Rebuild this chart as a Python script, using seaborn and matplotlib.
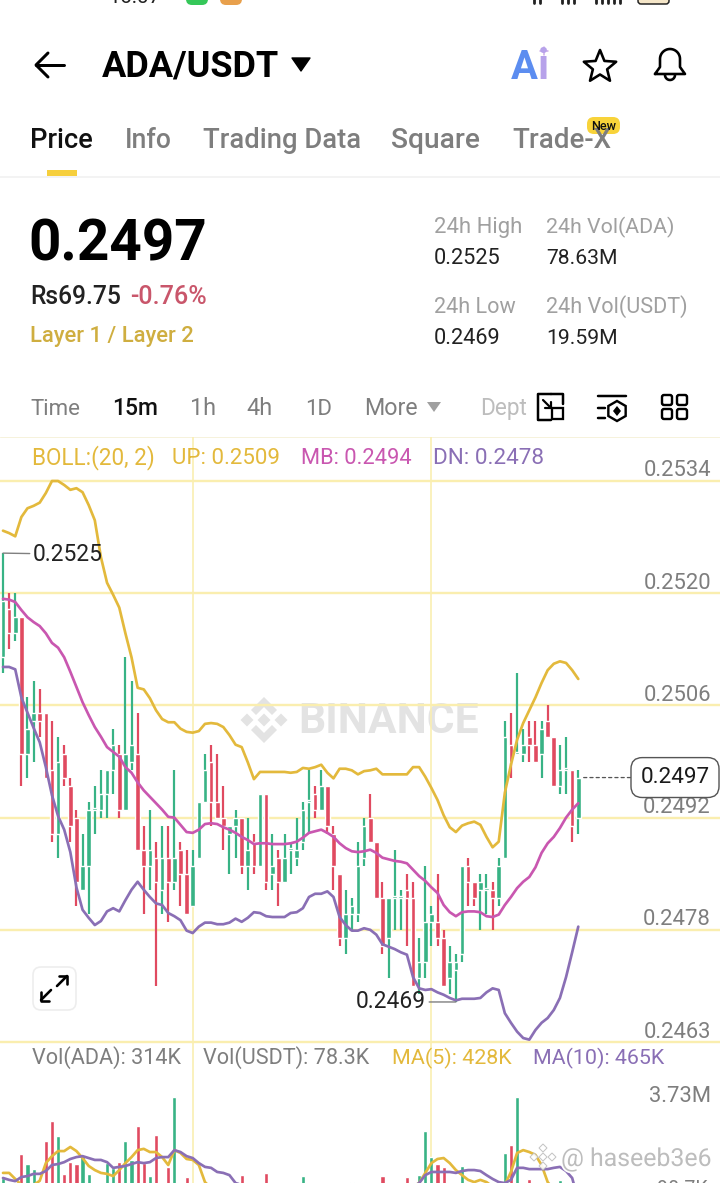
import numpy as np
import pandas as pd
import matplotlib
matplotlib.use("Agg")
import matplotlib.pyplot as plt
import matplotlib.patheffects as pe
from matplotlib.patches import FancyBboxPatch, Polygon, Rectangle
from matplotlib.transforms import ScaledTranslation
import seaborn as sns

# ---------- data ----------
opens = [.2512,.2518,.2515,.2517,.2500,.2504,.2505,.2505,.2498,.2490,.2500,.2496,.2492,.2483,.2486,.2493,.2493,.2495,.2498,.2500,
         .2493,.2499,.2500,.2488,.2486,.2487,.2483,.2487,.2484,.2488,.2485,.2481,.2487,.2494,.2499,.2494,.2492,.2490,.2491,.2492,
         .2486,.2489,.2486,.2495,.2485,.2487,.2484,.2488,.2487,.2489,.2494,.2495,.2493,.2496,.2490,.2485,.2477,.2480,.2480,.2487,
         .2492,.2489,.2482,.2477,.2482,.2482,.2483,.2482,.2472,.2474,.2479,.2479,.2477,.2472,.2473,.2475,.2486,.2484,.2483,.2483,
         .2483,.2482,.2487,.2501,.2500,.2500,.2502,.2501,.2500,.2504,.2502,.2496,.2498,.2498,.2492]
closes = [.2519,.2515,.2517,.2500,.2503,.2505,.2504,.2497,.2490,.2499,.2497,.2491,.2484,.2486,.2493,.2493,.2495,.2498,.2501,.2493,
          .2500,.2501,.2488,.2486,.2488,.2484,.2487,.2484,.2487,.2485,.2480,.2486,.2494,.2498,.2494,.2492,.2491,.2491,.2492,.2486,
          .2488,.2486,.2495,.2484,.2486,.2484,.2487,.2488,.2488,.2493,.2494,.2493,.2496,.2491,.2486,.2477,.2480,.2481,.2486,.2491,
          .2489,.2482,.2476,.2482,.2482,.2482,.2482,.2471,.2474,.2479,.2480,.2477,.2471,.2474,.2474,.2486,.2484,.2482,.2484,.2483,
          .2482,.2486,.2502,.2499,.2500,.2501,.2501,.2499,.2503,.2502,.2496,.2498,.2498,.2491,.2497]
highs = [.2525,.2520,.2520,.2517,.2507,.2509,.2508,.2505,.2504,.2502,.2501,.2497,.2493,.2490,.2494,.2496,.2498,.2498,.2503,.2501,
         .2512,.2509,.2505,.2491,.2493,.2489,.2491,.2491,.2498,.2489,.2488,.2488,.2494,.2500,.2501,.2500,.2496,.2491,.2493,.2492,
         .2492,.2490,.2495,.2495,.2490,.2488,.2490,.2489,.2492,.2494,.2498,.2496,.2498,.2496,.2491,.2485,.2483,.2482,.2489,.2492,
         .2495,.2489,.2484,.2482,.2488,.2483,.2485,.2484,.2477,.2486,.2481,.2485,.2478,.2476,.2475,.2486,.2487,.2484,.2485,.2485,
         .2484,.2487,.2504,.2505,.2510,.2503,.2504,.2504,.2504,.2506,.2502,.2501,.2502,.2498,.2498]
lows = [.2510,.2513,.2514,.2496,.2497,.2499,.2502,.2497,.2489,.2487,.2496,.2489,.2481,.2483,.2480,.2490,.2492,.2492,.2495,.2492,
        .2493,.2498,.2488,.2480,.2483,.2471,.2480,.2479,.2483,.2481,.2480,.2481,.2487,.2494,.2491,.2492,.2488,.2485,.2487,.2485,
        .2483,.2485,.2486,.2483,.2483,.2481,.2484,.2485,.2486,.2488,.2490,.2492,.2493,.2490,.2483,.2476,.2475,.2478,.2479,.2486,
        .2489,.2482,.2475,.2472,.2478,.2478,.2476,.2471,.2470,.2472,.2476,.2476,.2471,.2470,.2469,.2474,.2481,.2481,.2478,.2480,
        .2478,.2481,.2487,.2497,.2500,.2499,.2499,.2499,.2497,.2502,.2496,.2495,.2495,.2489,.2490]
boll_up = [.25278,.25275,.25271,.25295,.25306,.25309,.25313,.25325,.25340,.25340,.25335,.25329,.25331,.25326,.25310,.25291,.25245,.25213,.25198,.25182,
           .25150,.25120,.25082,.25080,.25069,.25054,.25043,.25039,.25039,.25031,.25027,.25026,.25028,.25037,.25038,.25037,.25033,.25023,.25011,.25008,
           .24989,.24968,.24977,.24977,.24977,.24977,.24977,.24976,.24977,.24982,.24981,.24983,.24986,.24976,.24969,.24981,.24981,.24979,.24974,.24978,
           .24979,.24981,.24974,.24974,.24974,.24974,.24974,.24983,.24983,.24971,.24957,.24942,.24923,.24908,.24902,.24910,.24913,.24915,.24911,.24896,
           .24883,.24890,.24951,.24986,.25017,.25038,.25054,.25070,.25088,.25104,.25112,.25115,.25113,.25104,.25093]
boll_mb = [.25193,.25192,.25189,.25179,.25170,.25164,.25159,.25150,.25138,.25132,.25120,.25102,.25083,.25064,.25048,.25033,.25021,.25008,.25002,.24996,
           .24983,.24976,.24964,.24954,.24946,.24938,.24930,.24921,.24920,.24911,.24902,.24901,.24905,.24912,.24913,.24912,.24908,.24905,.24901,.24896,
           .24892,.24887,.24888,.24888,.24887,.24887,.24887,.24888,.24890,.24895,.24901,.24903,.24905,.24901,.24896,.24888,.24882,.24878,.24877,.24878,
           .24880,.24876,.24870,.24868,.24866,.24865,.24863,.24855,.24847,.24841,.24833,.24826,.24811,.24802,.24797,.24802,.24803,.24803,.24802,.24797,
           .24796,.24799,.24811,.24821,.24832,.24840,.24846,.24858,.24876,.24888,.24896,.24907,.24920,.24930,.24938]
boll_dn = [.25108,.25108,.25105,.25070,.25051,.25032,.25014,.24983,.24948,.24922,.24905,.24877,.24833,.24805,.24795,.24786,.24791,.24803,.24807,.24803,
           .24817,.24830,.24840,.24830,.24821,.24813,.24811,.24801,.24797,.24792,.24779,.24776,.24784,.24789,.24789,.24787,.24787,.24789,.24794,.24790,
           .24795,.24802,.24801,.24797,.24796,.24796,.24796,.24801,.24802,.24807,.24821,.24825,.24825,.24828,.24821,.24796,.24786,.24779,.24779,.24782,
           .24780,.24774,.24762,.24759,.24756,.24752,.24749,.24721,.24707,.24705,.24706,.24702,.24699,.24695,.24692,.24694,.24694,.24694,.24695,.24702,
           .24707,.24705,.24676,.24664,.24653,.24645,.24643,.24655,.24664,.24670,.24680,.24695,.24721,.24752,.24784]
volumes = [1.17,.8,.7,1.93,1.61,1.45,.6,2.34,2.97,2.50,1.30,1.67,1.61,1.90,1.30,.7,.8,1.64,1.49,1.67,
           2.34,1.74,2.81,1.64,1.23,2.53,.9,1.52,3.73,.9,1.20,.9,.8,.7,.6,.5,.6,.5,.6,1.26,
           .6,.5,.8,1.33,.6,.5,.6,.4,.5,1.23,.8,.5,.6,.7,.9,.8,.7,1.04,.8,.7,
           .6,.8,1.23,.9,.7,.5,1.20,.9,1.26,2.65,1.83,1.61,1.52,.9,.7,1.55,.5,.4,.5,.4,
           .5,.9,1.96,2.21,3.73,.8,1.14,.7,.6,.5,.8,1.11,.4,.5,.314]
ma5 = [1.33,1.33,1.14,.95,.9,.95,1.08,1.64,1.86,2.02,2.02,2.15,2.02,1.80,1.55,1.42,1.33,1.30,1.23,1.42,
       1.64,1.83,2.05,2.09,1.99,1.99,1.83,1.58,2.05,1.96,1.77,1.74,1.58,1.04,.85,.7,.6,.55,.6,.7,
       .7,.7,.7,.75,.7,.6,.55,.5,.5,.6,.6,.6,.6,.65,.7,.7,.7,.7,.7,.7,
       .7,.7,.75,.7,.6,.7,.8,.9,1.01,1.33,1.64,1.77,1.80,1.64,1.42,1.26,1.11,1.04,1.11,1.04,
       .9,.85,.95,1.36,1.96,2.05,1.99,1.90,1.58,1.04,.8,.7,.6,.5,.428]
ma10 = [1.17,1.11,1.07,1.20,1.23,1.30,1.30,1.39,1.58,1.61,1.67,1.77,1.83,1.86,1.80,1.74,1.74,1.67,1.49,1.52,
        1.55,1.61,1.67,1.64,1.67,1.80,1.83,1.83,2.05,1.99,1.86,1.80,1.64,1.52,1.49,1.36,1.33,1.26,1.01,.95,
        .9,.85,.85,.85,.8,.8,.75,.7,.7,.7,.7,.7,.7,.7,.7,.7,.7,.7,.7,.7,
        .75,.75,.75,.75,.75,.75,.8,.9,1.01,1.26,1.36,1.36,1.36,1.36,1.33,1.39,1.42,1.42,1.39,1.26,
        1.14,1.04,1.01,1.11,1.49,1.49,1.45,1.45,1.45,1.45,1.49,1.52,1.39,1.17,.465]
price_ticks = [.2534, .2520, .2506, .2492, .2478, .2464]
price_tick_labels = ["0.2534", "0.2520", "0.2506", "0.2492", "0.2478", "0.2463"]
grid_candles = [31, 70]

# ---------- style ----------
W, H = 720, 1183
GREEN, RED = "#38B385", "#E04A60"
C_UP, C_MB, C_DN = "#E3B93C", "#C957B0", "#8A6FB5"
C_GRID = "#FAEEAF"
GREY, LIGHT = "#7E7E7E", "#A0A0A0"
sns.set_theme(style="white")
plt.rcParams["font.family"] = ["Roboto", "DejaVu Sans"]
PX = 0.72
LINE_W = 2.7 * PX

df = pd.DataFrame(dict(i=np.arange(len(opens)), o=opens, c=closes, h=highs, l=lows, up=boll_up, mb=boll_mb, dn=boll_dn,
                       vol=volumes, ma5=ma5, ma10=ma10))
df["dir"] = np.where(df.c >= df.o, "up", "down")
colors = df.dir.map({"up": GREEN, "down": RED})

fig = plt.figure(figsize=(W / 100, H / 100), dpi=100, facecolor="white")


def px_axes(y_top, y_bot, z):
    a = fig.add_axes([0, 1 - y_bot / H, 1, (y_bot - y_top) / H], zorder=z)
    a.patch.set_alpha(0)
    return a


bg = px_axes(0, H, 0)
fg = px_axes(0, H, 5)
for a in (bg, fg):
    a.set_xlim(0, W)
    a.set_ylim(H, 0)
    a.axis("off")
renderer = fig.canvas.get_renderer()


def fit(a, x0, x1, base, s, color="black", weight="normal", **kw):
    """Real text placed on a baseline, sized to span x0..x1 pixels."""
    t = a.text(x0, base, s, color=color, fontweight=weight, fontsize=16, va="baseline", ha="left", **kw)
    w = t.get_window_extent(renderer).width
    t.set_fontsize(16 * (x1 - x0) / w)
    return t


def stroke(a, xs, ys, color="black", lw=2.5, **kw):
    a.plot(xs, ys, color=color, lw=lw * PX, solid_capstyle="round", solid_joinstyle="round", **kw)


# ---------- price panel ----------
ax = px_axes(437, 1044, 2)
xlim = (-3 / 6.12, (W - 3) / 6.12)
ax.set_xlim(*xlim)
ax.set_ylim(.2534 - 563 / 80150, .2534 + 44 / 80150)
for g in grid_candles:
    ax.axvline(g, color=C_GRID, lw=1.6 * PX, zorder=1)
for p in price_ticks:
    ax.axhline(p, color=C_GRID, lw=2.4 * PX, zorder=1)
ax.vlines(df.i, df.l, df.h, colors=colors, lw=2.2 * PX, zorder=2)
body_h = np.maximum((df.c - df.o).abs(), 0.00002)
ax.bar(df.i, body_h, bottom=np.minimum(df.o, df.c), width=0.76, color=colors, zorder=3)
for col, c in (("up", C_UP), ("mb", C_MB), ("dn", C_DN)):
    sns.lineplot(data=df, x="i", y=col, ax=ax, color=c, lw=LINE_W, errorbar=None, legend=False, zorder=4)
ax.set_xlabel("")
ax.set_ylabel("")
ax.set_xticks([])
ax.yaxis.tick_right()
ax.set_yticks(price_ticks)
ax.set_yticklabels(price_tick_labels, color=GREY, fontsize=22 * PX, ha="right", va="baseline")
ax.tick_params(axis="y", length=0, pad=-9 * PX)
offset = ScaledTranslation(0, 4.5 / 100, fig.dpi_scale_trans)
for lab in ax.get_yticklabels():
    lab.set_transform(lab.get_transform() + offset)
sns.despine(ax=ax, left=True, bottom=True, right=True, top=True)

lead = dict(arrowstyle="-", color="#808080", lw=1.4 * PX, shrinkA=0, shrinkB=0)
ax.annotate("0.2525", xy=(0, highs[0]), xytext=(30, -1), textcoords="offset pixels", va="center", ha="left",
            fontsize=22.8 * PX, color="#222222", arrowprops=lead, zorder=6)
i_low = int(np.argmin(lows))
ax.annotate("0.2469", xy=(i_low, lows[i_low]), xytext=(-30, 0), textcoords="offset pixels", va="center", ha="right",
            fontsize=22.8 * PX, color="#222222", arrowprops=lead, zorder=6)
ax.annotate(f"{closes[-1]:.4f}", xy=(df.i.iloc[-1] + 0.4, closes[-1]), xycoords="data",
            xytext=(675 / W, closes[-1]), textcoords=("axes fraction", "data"), ha="center", va="center",
            fontsize=22.5 * PX, color="#1a1a1a", zorder=7,
            bbox=dict(boxstyle="round,pad=0.42,rounding_size=0.5", fc="white", ec="#555555", lw=1.4 * PX),
            arrowprops=dict(arrowstyle="-", linestyle=(0, (2.4, 2.4)), color="#555555", lw=1.3 * PX, shrinkA=0, shrinkB=0))

# ---------- volume panel ----------
av = px_axes(1044, 1215, 2)
sns.barplot(data=df, x="i", y="vol", hue="dir", palette={"up": GREEN, "down": RED}, native_scale=True, dodge=False,
            width=0.68, saturation=1, legend=False, ax=av, zorder=3)
sns.lineplot(data=df, x="i", y="ma5", ax=av, color=C_UP, lw=LINE_W, errorbar=None, legend=False, zorder=4)
sns.lineplot(data=df, x="i", y="ma10", ax=av, color=C_DN, lw=LINE_W, errorbar=None, legend=False, zorder=4)
for g in grid_candles:
    av.axvline(g, color=C_GRID, lw=1.6 * PX, zorder=1)
av.set_xlim(*xlim)
av.set_ylim(0, 171 * 0.0316)
av.set_xlabel("")
av.set_ylabel("")
av.set_xticks([])
av.yaxis.tick_right()
av.set_yticks([3.73])
av.set_yticklabels(["3.73M"], color=GREY, fontsize=22 * PX, ha="right", va="center")
av.tick_params(axis="y", length=0, pad=-9 * PX)
for lab in av.get_yticklabels():
    lab.set_transform(lab.get_transform() + ScaledTranslation(0, 0.5 / 100, fig.dpi_scale_trans))
sns.despine(ax=av, left=True, bottom=True, right=True, top=True)
fit(fg, 657, 708, 1195, "90.7K", color=GREY)

# ---------- watermark behind the chart ----------
WM = "#E3E3E3"
fit(bg, 298, 478, 733, "BINANCE", color=WM, weight="bold")
for cx, cy in ((264, 720), (247, 720), (281, 720)):
    bg.add_patch(Polygon([(cx - 6.5, cy), (cx, cy - 6.5), (cx + 6.5, cy), (cx, cy + 6.5)], fc=WM, ec="none"))
bg.add_patch(Polygon([(251, 710), (264, 697), (277, 710), (272, 715), (264, 707), (256, 715)], fc=WM, ec="none"))
bg.add_patch(Polygon([(251, 730), (264, 743), (277, 730), (272, 725), (264, 733), (256, 725)], fc=WM, ec="none"))
bg.plot([0, W], [437, 437], color="#F6F2DC", lw=1 * PX)

# ---------- status bar remnants ----------
fit(fg, 108, 161, 3, "16:07", color="#222222")
fg.add_patch(FancyBboxPatch((186, -12), 22, 17, boxstyle="round,pad=0,rounding_size=6", fc="#35C759", ec="none"))
fg.add_patch(FancyBboxPatch((220, -12), 22, 17, boxstyle="round,pad=0,rounding_size=6", fc="#E8A04C", ec="none"))
for x in (534, 540, 562, 568, 574, 596, 602, 608, 614, 620):
    stroke(fg, [x, x], [-3, 3], lw=2.8, color="#222222")
fg.add_patch(FancyBboxPatch((638, -8), 31, 12, boxstyle="round,pad=0,rounding_size=3", fc="#F5E6C8", ec="#222222", lw=1.5 * PX))

# ---------- top bar ----------
stroke(fg, [36, 64], [65, 65], lw=3)
stroke(fg, [48, 36, 48], [53, 65, 77], lw=3)
fit(fg, 102, 280, 76, "ADA/USDT", weight="bold")
fg.add_patch(Polygon([(292, 58), (310, 58), (301, 71)], fc="black", ec="black", lw=1, joinstyle="round"))
fit(fg, 511, 538, 79, "A", color="#5C8DF0", weight="bold")
fit(fg, 538, 549, 79, "i", color="#B7A2EA", weight="bold")
stroke(fg, [544, 544], [47, 55], color="#C9A6E8", lw=1.5)
stroke(fg, [540, 548], [51, 51], color="#C9A6E8", lw=1.5)
ang = np.deg2rad(np.arange(0, 360, 36) - 90)
rad = np.where(np.arange(10) % 2 == 0, 17, 7.5)
fg.add_patch(Polygon(np.c_[600 + rad * np.cos(ang), 67 + rad * np.sin(ang)], closed=True, fc="none", ec="black",
                     lw=2.6 * PX, joinstyle="round"))
t = np.linspace(np.pi, 0, 30)
bell_x = np.r_[655, 660, 660 + 10 * np.cos(t) + 10, 680, 685, 655]
bell_y = np.r_[74, 67, 59 + 10 * np.sin(t + np.pi), 67, 74, 74]
stroke(fg, bell_x, bell_y, lw=2.6)
t = np.linspace(np.pi, 0, 15)
stroke(fg, 670 + 5 * np.cos(t), 75 + 5 * np.sin(t + 0) * 1, lw=2.6)

# ---------- tabs ----------
fit(fg, 30, 93, 148, "Price", color="#111111", weight="medium")
for x0, x1, s in ((125, 172, "Info"), (203, 361, "Trading Data"), (391, 480, "Square"), (512, 611, "Trade-X")):
    fit(fg, x0, x1, 148, s, color=GREY, weight="medium")
fg.add_patch(FancyBboxPatch((587, 117), 33, 17, boxstyle="round,pad=0,rounding_size=7", fc="#F8D33A", ec="none"))
fit(fg, 591, 616, 130, "New", color="#111111", weight="medium")
fg.add_patch(Rectangle((47, 170), 30, 6, fc="#F6CF3D", ec="none"))
fg.plot([0, W], [177, 177], color="#F0F0F0", lw=1.5 * PX)

# ---------- price block ----------
fit(fg, 28, 206, 260, "0.2497", weight="bold")
fit(fg, 30, 121, 304, "Rs69.75", color="#222222", weight="medium")
fit(fg, 130, 207, 304, "-0.76%", color="#C9566B", weight="medium")
fit(fg, 30, 194, 342, "Layer 1 / Layer 2", color="#CFAE40", weight="medium")
fit(fg, 434, 522, 233, "24h High", color=LIGHT)
fit(fg, 546, 675, 233, "24h Vol(ADA)", color=LIGHT)
fit(fg, 434, 501, 264, "0.2525", color="#222222")
fit(fg, 546, 618, 264, "78.63M", color="#222222")
fit(fg, 434, 516, 313, "24h Low", color=LIGHT)
fit(fg, 546, 688, 313, "24h Vol(USDT)", color=LIGHT)
fit(fg, 434, 501, 344, "0.2469", color="#222222")
fit(fg, 546, 618, 344, "19.59M", color="#222222")

# ---------- time frame row ----------
fit(fg, 30, 80, 415, "Time", color=GREY)
fit(fg, 112, 158, 415, "15m", color="#111111", weight="medium")
for x0, x1, s in ((190, 216, "1h"), (246, 272, "4h"), (305, 332, "1D"), (364, 418, "More")):
    fit(fg, x0, x1, 415, s, color=GREY)
fg.add_patch(Polygon([(427, 402), (441, 402), (434, 412)], fc=LIGHT, ec="none"))
fit(fg, 480, 527, 415, "Dept", color="#BDBDBD")
# icon 1
stroke(fg, [551, 538, 538, 551], [394, 394, 420, 420], lw=2.5)
stroke(fg, [551, 563, 563], [394, 394, 404], lw=2.5)
fg.add_patch(Rectangle((552, 408), 11, 11, fc="none", ec="black", lw=2.3 * PX))
stroke(fg, [543, 551], [400, 408], lw=2.2)
stroke(fg, [551, 551, 545], [402, 408, 408], lw=2.2)
# icon 2
stroke(fg, [598, 626], [396, 396], lw=2.5)
stroke(fg, [598, 605], [408, 408], lw=2.5)
stroke(fg, [598, 605], [418, 418], lw=2.5)
ang = np.deg2rad(np.arange(0, 360, 60) + 30)
fg.add_patch(Polygon(np.c_[617 + 10 * np.cos(ang), 411 + 10 * np.sin(ang)], fc="none", ec="black", lw=2.4 * PX))
fg.add_patch(Polygon([(617, 406), (621, 411), (617, 416), (613, 411)], fc="black", ec="none"))
# icon 3
for x in (662, 677):
    for y in (395, 409):
        fg.add_patch(FancyBboxPatch((x, y), 10, 10, boxstyle="round,pad=0,rounding_size=2", fc="none", ec="black", lw=2.4 * PX))

# ---------- indicator legends ----------
fit(fg, 32, 155, 464, "BOLL:(20, 2)", color=C_UP)
fit(fg, 172, 280, 464, "UP: 0.2509", color=C_UP)
fit(fg, 301, 412, 464, "MB: 0.2494", color=C_MB)
fit(fg, 433, 544, 464, "DN: 0.2478", color=C_DN)
fit(fg, 32, 182, 1064, "Vol(ADA): 314K", color=GREY)
fit(fg, 203, 370, 1064, "Vol(USDT): 78.3K", color=GREY)
fit(fg, 392, 512, 1064, "MA(5): 428K", color=C_UP)
fit(fg, 533, 665, 1064, "MA(10): 465K", color=C_DN)

# ---------- expand button ----------
fg.add_patch(FancyBboxPatch((33, 967), 43, 43, boxstyle="round,pad=0,rounding_size=8", fc="white", ec="#EDEDED", lw=1.6 * PX))
stroke(fg, [41, 51], [1000, 990], lw=2.6)
stroke(fg, [41, 41, 49], [992, 1001, 1001], lw=2.6)
stroke(fg, [57, 67], [986, 976], lw=2.6)
stroke(fg, [59, 67, 67], [976, 976, 984], lw=2.6)

# ---------- uploader watermark ----------
halo = [pe.withStroke(linewidth=2.5, foreground="white")]
WM2 = "#BDBDBD"
fit(fg, 590, 712, 1166, "haseeb3e6", color=WM2, path_effects=halo)
fit(fg, 561, 584, 1166, "@", color=WM2, path_effects=halo)
for cx, cy in ((543, 1157), (534, 1157), (552, 1157), (543, 1148), (543, 1166)):
    fg.add_patch(Polygon([(cx - 4, cy), (cx, cy - 4), (cx + 4, cy), (cx, cy + 4)], fc="white", ec=WM2, lw=1 * PX, alpha=0.9))

fig.savefig("out.png", dpi=100, facecolor="white")
